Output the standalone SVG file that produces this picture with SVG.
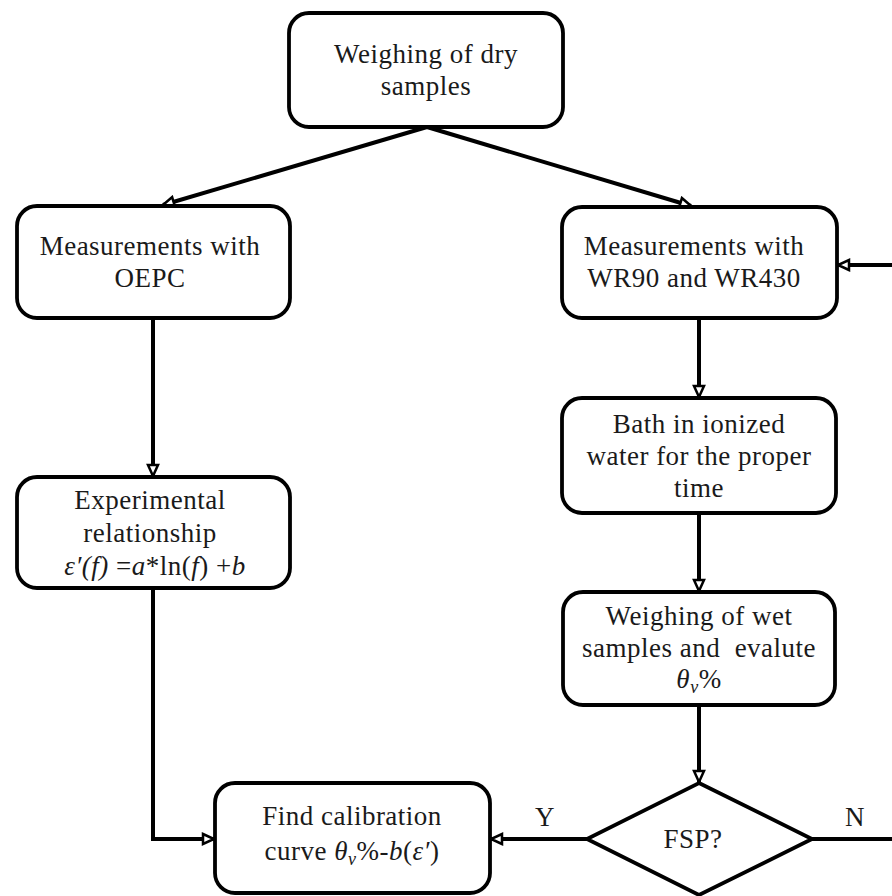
<svg xmlns="http://www.w3.org/2000/svg" width="892" height="896" viewBox="0 0 892 896">
<style>
.box{fill:#fff;stroke:#000;stroke-width:3.8}
.ln{fill:none;stroke:#000;stroke-width:4}
text{font-family:"Liberation Serif","Times New Roman",serif;font-size:27px;letter-spacing:0.5px;fill:#1a1a1a;text-anchor:middle}
.i{font-style:italic}
</style>
<defs>
<marker id="ah" markerUnits="userSpaceOnUse" markerWidth="16" markerHeight="14" refX="13" refY="7" orient="auto">
<path d="M2,2 L13,7 L2,12 Z" fill="#fff" stroke="#000" stroke-width="2.5" stroke-linejoin="miter"/>
</marker>
</defs>
<g id="connectors">
<line class="ln" x1="427" y1="127" x2="163" y2="205" marker-end="url(#ah)"/>
<line class="ln" x1="427" y1="127" x2="691" y2="206" marker-end="url(#ah)"/>
<line class="ln" x1="153" y1="318" x2="153" y2="476" marker-end="url(#ah)"/>
<line class="ln" x1="699" y1="318" x2="699" y2="397" marker-end="url(#ah)"/>
<line class="ln" x1="699" y1="513" x2="699" y2="591" marker-end="url(#ah)"/>
<line class="ln" x1="699" y1="705" x2="699" y2="782" marker-end="url(#ah)"/>
<polyline class="ln" points="153,588 153,839 214,839" marker-end="url(#ah)"/>
<line class="ln" x1="587" y1="839" x2="491" y2="839" marker-end="url(#ah)"/>
<line class="ln" x1="812" y1="839" x2="892" y2="839"/>
<line class="ln" x1="892" y1="265" x2="838" y2="265" marker-end="url(#ah)"/>
<text x="545" y="826">Y</text>
<text x="855" y="826">N</text>
</g>
<g id="n1">
<rect class="box" x="289" y="13" width="274" height="114" rx="20"/>
<text x="426" y="63">Weighing of dry</text>
<text x="426" y="95">samples</text>
</g>
<g id="n2">
<rect class="box" x="17" y="206" width="273" height="112" rx="20"/>
<text x="150" y="255">Measurements with</text>
<text x="150" y="287">OEPC</text>
</g>
<g id="n3">
<rect class="box" x="562" y="207" width="275" height="111" rx="20"/>
<text x="694" y="255">Measurements with</text>
<text x="694" y="287">WR90 and WR430</text>
</g>
<g id="n4">
<rect class="box" x="17" y="477" width="273" height="111" rx="20"/>
<text x="150" y="509">Experimental</text>
<text x="150" y="542">relationship</text>
<text x="155" y="575"><tspan class="i">ε′(f)</tspan> =<tspan class="i">a</tspan>*ln(<tspan class="i">f</tspan>) +<tspan class="i">b</tspan></text>
</g>
<g id="n5">
<rect class="box" x="562" y="398" width="274" height="115" rx="20"/>
<text x="699" y="433">Bath in ionized</text>
<text x="699" y="465">water for the proper</text>
<text x="699" y="497">time</text>
</g>
<g id="n6">
<rect class="box" x="563" y="592" width="272" height="113" rx="20"/>
<text x="699" y="625">Weighing of wet</text>
<text x="699" y="657" xml:space="preserve">samples and  evalute</text>
<text x="699" y="688"><tspan class="i">θ</tspan><tspan class="i" font-size="18" dy="5">v</tspan><tspan dy="-5">%</tspan></text>
</g>
<g id="n7">
<path class="box" d="M699,783 L812,839 L699,895 L587,839 Z"/>
<text x="693" y="848">FSP?</text>
</g>
<g id="n8">
<rect class="box" x="215" y="783" width="275" height="110" rx="20"/>
<text x="352" y="825">Find calibration</text>
<text x="352" y="860">curve <tspan class="i">θ</tspan><tspan class="i" font-size="18" dy="5">v</tspan><tspan dy="-5">%-</tspan><tspan class="i">b</tspan>(<tspan class="i">ε′</tspan>)</text>
</g>
</svg>
